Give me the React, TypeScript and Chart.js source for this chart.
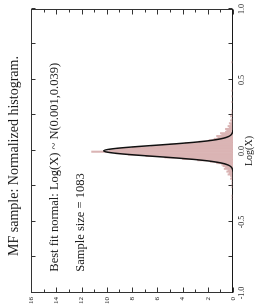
import React, { useEffect, useRef } from "react";
import { Chart, registerables } from "chart.js";

Chart.register(...registerables);

// Histogram bins (centre of bin on Log(X)) and normalized density
const BIN_CENTERS = [
  -0.335, -0.315, -0.255, -0.235, -0.215, -0.195, -0.185, -0.175, -0.165, -0.155,
  -0.145, -0.135, -0.125, -0.115, -0.105, -0.095, -0.085, -0.075, -0.065, -0.055,
  -0.045, -0.035, -0.025, -0.015, -0.005, 0.005, 0.015, 0.025, 0.035, 0.045,
  0.055, 0.065, 0.075, 0.085, 0.095, 0.105, 0.115, 0.125, 0.135, 0.145,
  0.155, 0.165, 0.175, 0.185, 0.195, 0.205, 0.215, 0.225, 0.245, 0.265,
  0.285, 0.345, 0.385, 0.425, 0.625,
];
const BIN_DENSITY = [
  0.1, 0.1, 0.1, 0.1, 0.1, 0.2, 0.1, 0.2, 0.4, 0.3,
  0.5, 0.4, 0.7, 0.6, 0.8, 0.9, 1.3, 1.8, 2.8, 4.0,
  5.4, 6.9, 8.3, 9.3, 11.2, 9.8, 9.2, 8.0, 6.5, 5.0,
  3.8, 2.7, 1.9, 1.5, 1.2, 1.3, 0.9, 1.0, 0.6, 0.5,
  0.6, 0.3, 0.4, 0.2, 0.3, 0.1, 0.2, 0.1, 0.2, 0.1,
  0.1, 0.1, 0.1, 0.1, 0.1,
];

// Best-fit normal curve N(0.001, 0.039)
const CURVE_X = [
  -1.0, -0.149, -0.139, -0.129, -0.119, -0.109, -0.099, -0.089, -0.079, -0.069,
  -0.059, -0.049, -0.039, -0.029, -0.019, -0.009, 0.001, 0.011, 0.021, 0.031,
  0.041, 0.051, 0.061, 0.071, 0.081, 0.091, 0.101, 0.111, 0.121, 0.131,
  0.141, 0.151, 1.0,
];
const CURVE_Y = [
  0, 0.006, 0.016, 0.04, 0.09, 0.19, 0.38, 0.71, 1.25, 2.04,
  3.13, 4.5, 6.05, 7.61, 8.97, 9.9, 10.23, 9.9, 8.97, 7.61,
  6.05, 4.5, 3.13, 2.04, 1.25, 0.71, 0.38, 0.19, 0.09, 0.04,
  0.016, 0.006, 0,
];

const X_TICK_LABELS = [-1.0, -0.5, 0.0, 0.5, 1.0];
const X_MINOR_TICKS = [-1.0, -0.75, -0.5, -0.25, 0.0, 0.25, 0.5, 0.75, 1.0];
const Y_TICKS = [0, 1, 2, 3, 4, 5, 6, 7, 8, 9, 10, 11, 12, 13, 14, 15, 16];

const TITLE = "MF sample: Normalized histogram.";
const X_TITLE = "Log(X)";
const NOTE_1 = "Best fit normal: Log(X) ~ N(0.001,0.039)";
const NOTE_2 = "Sample size = 1083";
const NOTE_X = -0.85;
const NOTE_1_Y = 14.1;
const NOTE_2_Y = 12.1;

const SERIF = "'Liberation Serif', 'Times New Roman', serif";
const TEXT = "#1a1a1a";

const framePlugin = {
  id: "frame",
  beforeDatasetsDraw(chart: any) {
    const { ctx, chartArea, scales } = chart;
    const { left, right, top, bottom } = chartArea;
    const x = scales.x;
    const y = scales.y;
    ctx.save();
    ctx.strokeStyle = "#333";
    ctx.lineWidth = 1;
    const L = Math.round(left) + 0.5;
    const R = Math.round(right) - 0.5;
    const T = Math.round(top) + 0.5;
    const B = Math.round(bottom) - 0.5;
    ctx.strokeRect(L, T, R - L, B - T);
    ctx.beginPath();
    X_MINOR_TICKS.forEach((v) => {
      const px = Math.round(x.getPixelForValue(v)) + 0.5;
      ctx.moveTo(px, B);
      ctx.lineTo(px, B - 4);
      ctx.moveTo(px, T);
      ctx.lineTo(px, T + 4);
    });
    Y_TICKS.forEach((v) => {
      const py = Math.round(y.getPixelForValue(v)) + 0.5;
      const len = v % 2 === 0 ? 5 : 3;
      ctx.moveTo(L, py);
      ctx.lineTo(L + len, py);
      ctx.moveTo(R, py);
      ctx.lineTo(R - len, py);
    });
    ctx.stroke();
    ctx.restore();
  },
  afterDatasetsDraw(chart: any) {
    const { ctx, scales } = chart;
    const x = scales.x;
    const y = scales.y;
    ctx.save();
    ctx.fillStyle = TEXT;
    ctx.font = `12.5px ${SERIF}`;
    ctx.textAlign = "left";
    ctx.textBaseline = "middle";
    ctx.fillText(NOTE_1, x.getPixelForValue(NOTE_X), y.getPixelForValue(NOTE_1_Y));
    ctx.fillText(NOTE_2, x.getPixelForValue(NOTE_X), y.getPixelForValue(NOTE_2_Y));
    ctx.restore();
  },
};

export default function App() {
  const canvasRef = useRef<HTMLCanvasElement | null>(null);

  useEffect(() => {
    document.body.style.margin = "0";
    const canvas = canvasRef.current;
    if (!canvas) return;
    const chart = new Chart(canvas, {
      type: "bar",
      data: {
        datasets: [
          {
            type: "line",
            data: CURVE_X.map((v, i) => ({ x: v, y: CURVE_Y[i] })),
            borderColor: "#111",
            borderWidth: 1.5,
            pointRadius: 0,
            cubicInterpolationMode: "monotone",
            fill: false,
            order: 0,
          } as any,
          {
            type: "bar",
            data: BIN_CENTERS.map((v, i) => ({ x: v, y: BIN_DENSITY[i] })),
            backgroundColor: "rgb(218,180,180)",
            borderWidth: 0,
            barPercentage: 1,
            categoryPercentage: 1,
            order: 1,
          } as any,
        ],
      },
      options: {
        animation: false,
        responsive: false,
        devicePixelRatio: 1,
        layout: { padding: { left: 0, right: 5, top: 0, bottom: 0 } },
        plugins: {
          legend: { display: false },
          tooltip: { enabled: false },
          title: {
            display: true,
            text: TITLE,
            color: TEXT,
            font: { family: SERIF, size: 14, weight: "normal", lineHeight: 1.2 },
            padding: { top: 6, bottom: 8.2 },
          },
        },
        scales: {
          x: {
            type: "linear",
            min: -1,
            max: 1,
            offset: false,
            afterBuildTicks: (s: any) => {
              s.ticks = X_TICK_LABELS.map((v) => ({ value: v }));
            },
            ticks: {
              autoSkip: false,
              maxRotation: 0,
              minRotation: 0,
              padding: 4,
              color: TEXT,
              font: { family: SERIF, size: 8 },
              callback: (v: any) => Number(v).toFixed(1),
            },
            grid: { display: false, drawTicks: false },
            border: { display: false },
            title: {
              display: true,
              text: X_TITLE,
              color: TEXT,
              font: { family: SERIF, size: 10, lineHeight: 1.2 },
              padding: { top: 0, bottom: 0 },
            },
            afterFit: (s: any) => {
              s.height = 22;
            },
          },
          y: {
            type: "linear",
            min: 0,
            max: 16,
            afterBuildTicks: (s: any) => {
              s.ticks = Y_TICKS.filter((v) => v % 2 === 0).map((v) => ({ value: v }));
            },
            ticks: {
              autoSkip: false,
              padding: 4,
              color: TEXT,
              font: { family: SERIF, size: 7 },
            },
            grid: { display: false, drawTicks: false },
            border: { display: false },
            afterFit: (s: any) => {
              s.width = 14;
            },
          },
        },
      },
      plugins: [framePlugin],
    } as any);
    return () => chart.destroy();
  }, []);

  return (
    <div
      style={{
        position: "fixed",
        left: 0,
        top: 0,
        width: 255,
        height: 307,
        overflow: "hidden",
        background: "#fff",
      }}
    >
      <div
        style={{
          position: "absolute",
          left: 0,
          top: 0,
          width: 307,
          height: 255,
          transform: "translateY(307px) rotate(-90deg)",
          transformOrigin: "0 0",
        }}
      >
        <canvas ref={canvasRef} width={307} height={255} style={{ width: 307, height: 255, display: "block" }} />
      </div>
    </div>
  );
}
